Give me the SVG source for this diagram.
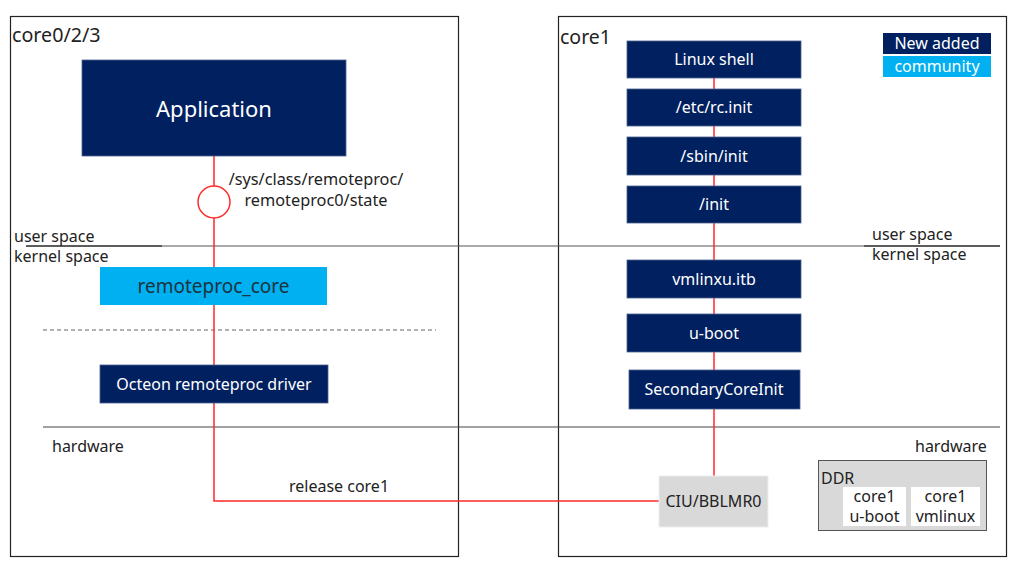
<svg xmlns="http://www.w3.org/2000/svg" width="1018" height="564" viewBox="0 0 1018 564">
<style>
text{font-family:"Noto Sans","Open Sans",sans-serif;}
.frame{fill:none;stroke:#222;stroke-width:1.2}
.navy{fill:#002060;stroke:#4a6190;stroke-width:0.8}
.wt{fill:#fff;font-size:16px;text-anchor:middle}
.lbl{fill:#222;font-size:16px}
.mid{text-anchor:middle}
.red{stroke:#ff2a2a;stroke-width:1.5;fill:none}
</style>
<rect width="1018" height="564" fill="#fff"/>
<g id="frames">
<rect class="frame" x="10.5" y="16.5" width="448" height="540"/>
<rect class="frame" x="558.5" y="16.5" width="448" height="540"/>
<text x="12" y="42" style="font-size:19.7px" fill="#222">core0/2/3</text>
<text x="560" y="44" style="font-size:19.5px" fill="#222">core1</text>
</g>
<g id="layers">
<line x1="26" y1="246" x2="1000" y2="246" stroke="#555" stroke-width="1.2"/>
<line x1="26" y1="246" x2="162" y2="246" stroke="#111" stroke-width="1.2"/>
<line x1="864" y1="246" x2="1000" y2="246" stroke="#111" stroke-width="1.2"/>
<text class="lbl" x="14" y="242">user space</text>
<text class="lbl" x="14" y="262">kernel space</text>
<text class="lbl" x="872" y="240">user space</text>
<text class="lbl" x="872" y="260">kernel space</text>
<line x1="43" y1="330" x2="436" y2="330" stroke="#666" stroke-width="1.2" stroke-dasharray="4 3"/>
<line x1="43" y1="427" x2="1000" y2="427" stroke="#444" stroke-width="1.2"/>
<text class="lbl" x="52" y="452">hardware</text>
<text class="lbl" x="915" y="452">hardware</text>
</g>
<g id="connectors">
<polyline class="red" points="214,156 214,501 660,501"/>
<line class="red" x1="714" y1="78" x2="714" y2="476"/>
<circle cx="214" cy="202" r="16" fill="#fff" stroke="#ff2a2a" stroke-width="1.5"/>
<text class="lbl mid" x="316" y="185" style="font-size:16.3px">/sys/class/remoteproc/</text>
<text class="lbl mid" x="316" y="206" style="font-size:16.3px">remoteproc0/state</text>
<text class="lbl mid" x="339" y="492">release core1</text>
</g>
<g id="application">
<rect class="navy" x="82" y="60" width="264" height="96"/>
<text class="wt" x="214" y="117" style="font-size:22px">Application</text>
</g>
<g id="remoteproc_core">
<rect x="100" y="267" width="227" height="38" fill="#00b0f0"/>
<text x="213.5" y="293" style="font-size:19px" text-anchor="middle" fill="#1d3340">remoteproc_core</text>
</g>
<g id="octeon_driver">
<rect class="navy" x="100" y="365" width="228" height="38"/>
<text class="wt" x="214" y="390">Octeon remoteproc driver</text>
</g>
<g id="linux_shell">
<rect class="navy" x="627" y="41" width="174" height="37"/>
<text class="wt" x="714" y="65">Linux shell</text>
</g>
<g id="etc_rc_init">
<rect class="navy" x="627" y="89" width="174" height="37"/>
<text class="wt" x="714" y="113">/etc/rc.init</text>
</g>
<g id="sbin_init">
<rect class="navy" x="627" y="137" width="174" height="38"/>
<text class="wt" x="714" y="162">/sbin/init</text>
</g>
<g id="init">
<rect class="navy" x="627" y="186" width="174" height="37"/>
<text class="wt" x="714" y="210">/init</text>
</g>
<g id="vmlinxu_itb">
<rect class="navy" x="627" y="260" width="174" height="38"/>
<text class="wt" x="714" y="285">vmlinxu.itb</text>
</g>
<g id="u_boot">
<rect class="navy" x="627" y="314" width="174" height="38"/>
<text class="wt" x="714" y="339">u-boot</text>
</g>
<g id="secondary_core_init">
<rect class="navy" x="629" y="370" width="171" height="39"/>
<text class="wt" x="714" y="395">SecondaryCoreInit</text>
</g>
<g id="ciu_bblmr0">
<rect x="659" y="476" width="109" height="51" fill="#d9d9d9" stroke="#eee" stroke-width="1"/>
<text class="lbl mid" x="713.5" y="507">CIU/BBLMR0</text>
</g>
<g id="legend">
<rect x="883" y="33" width="108" height="21" fill="#002060"/>
<text class="wt" x="937" y="49">New added</text>
<rect x="883" y="56" width="108" height="21" fill="#00b0f0"/>
<text class="wt" x="937" y="72">community</text>
</g>
<g id="ddr">
<rect x="818.5" y="460.5" width="168" height="70" fill="#d9d9d9" stroke="#555" stroke-width="1"/>
<text class="lbl" x="821" y="484">DDR</text>
<rect x="843" y="487" width="63" height="39" fill="#fff"/>
<text class="lbl mid" x="874.5" y="502">core1</text>
<text class="lbl mid" x="874.5" y="522">u-boot</text>
<rect x="911" y="487" width="69" height="39" fill="#fff"/>
<text class="lbl mid" x="945.5" y="502">core1</text>
<text class="lbl mid" x="945.5" y="522">vmlinux</text>
</g>
</svg>
